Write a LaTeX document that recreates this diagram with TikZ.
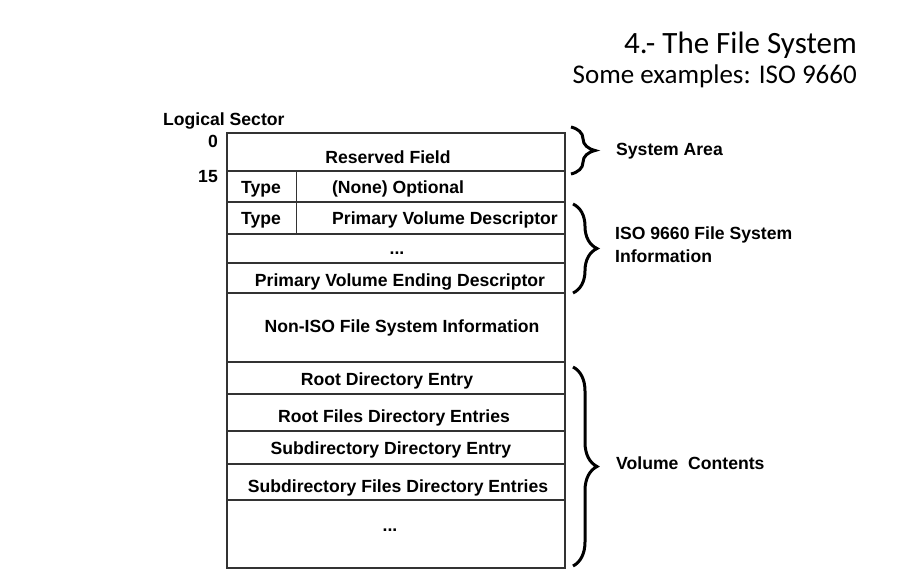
\documentclass[tikz,border=0pt]{standalone}
\usepackage{fontspec}
\setmainfont{Liberation Sans}
\newfontfamily\titlefont{Carlito}
\usetikzlibrary{decorations.pathreplacing,positioning}

\begin{document}
\begin{tikzpicture}[x=1pt,y=-1pt,font=\bfseries\fontsize{17.6}{23}\selectfont]
    \tikzset{
      row/.style={draw=black!80, line width=1.3pt, minimum width=338pt, inner sep=0pt},
      lbl/.style={inner sep=0pt, anchor=base},
      side/.style={inner sep=0pt, anchor=base west},
      curly/.style={decorate, decoration={brace, amplitude=24pt}, line width=3pt}
    }
    \useasboundingbox (0,0) rectangle (899,587);
    % title
    \node[inner sep=0pt, anchor=base east, font=\titlefont\fontsize{31}{36}\selectfont] (title) at (857,53) {4.- The File System};
    \node[inner sep=0pt, anchor=base east, font=\titlefont\fontsize{27}{32}\selectfont] (subtitle) at (857,83) {Some examples: ISO 9660};
    % sectors
    \foreach \n/\t/\b in {res/133/171, opt/171/202, pvd/202/234, dots/234/263, pved/263/293,
                          non/293/362, root/362/394, rfiles/394/431, sub/431/464, sfiles/464/500, more/500/568} {
      \node[row, minimum height={(\b-\t)*1pt}] (\n) at (396,{(\t+\b)/2}) {};
    }
    \draw[black!80, line width=1.3pt] ([xshift=70pt]opt.north west) -- ([xshift=70pt]pvd.south west);
    \node[lbl] (tres) at (388,163) {Reserved Field};
    \node[lbl] (ttype1) at (261,193) {Type};
    \node[lbl] (topt) at (398,193) {(None) Optional};
    \node[lbl] (ttype2) at (261,224) {Type};
    \node[lbl] (tpvd) at (445,224) {Primary Volume Descriptor};
    \node[lbl] (tdots) at (397,254) {...};
    \node[lbl] (tpved) at (400,286) {Primary Volume Ending Descriptor};
    \node[lbl] (tnon) at (402,332) {Non-ISO File System Information};
    \node[lbl] (troot) at (387,385) {Root Directory Entry};
    \node[lbl] (trfiles) at (394,422) {Root Files Directory Entries};
    \node[lbl] (tsub) at (391,454) {Subdirectory Directory Entry};
    \node[lbl] (tsfiles) at (398,492) {Subdirectory Files Directory Entries};
    \node[lbl] (tmore) at (390,531) {...};
    % sector numbers
    \node[side] (tlog) at (163,125) {Logical Sector};
    \node[inner sep=0pt, anchor=base east] (s0) at (218,147) {0};
    \node[inner sep=0pt, anchor=base east] (s15) at (218,182) {15};
    % braces
    \coordinate (sysT) at (571,127);
    \coordinate (sysB) at (571,174);
    \coordinate (isoT) at (573,204);
    \coordinate (isoB) at (573,293);
    \coordinate (volT) at (573,367);
    \coordinate (volB) at (573,566);
    \draw[curly] (sysT) -- (sysB);
    \draw[curly] (isoT) -- (isoB);
    \draw[curly] (volT) -- (volB);
    \node[side] (tsys) at (616,155) {System Area};
    \node[side, align=left] (tiso) at (615,262) {ISO 9660 File System\\Information};
    \node[side] (tvol) at (616,469) {Volume\ \ Contents};
  \end{tikzpicture}
\end{document}
